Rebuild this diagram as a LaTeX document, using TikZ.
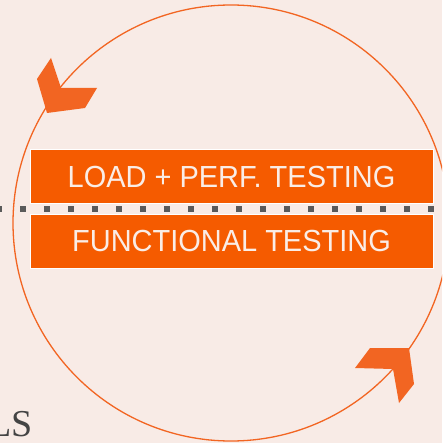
\documentclass[tikz,border=0pt]{standalone}
\usepackage{fontspec}
\usepackage{graphicx}
\setmainfont{Liberation Serif}
\newfontfamily\boxfont{Liberation Sans}
\definecolor{bgc}{HTML}{F8EBE6}
\definecolor{boxc}{HTML}{F55B00}
\definecolor{arrc}{HTML}{F26522}
\definecolor{txtc}{HTML}{FAEDE6}
\definecolor{dotc}{HTML}{5A5A5A}
\definecolor{lsc}{HTML}{444444}
\newcommand{\bandtxt}[1]{\scalebox{0.95}[1]{#1}}
\tikzset{
  px/.style={x=1pt,y=-1pt},
  bandbox/.style={draw=white, line width=1pt, fill=boxc, minimum width=403pt, minimum height=54pt, inner sep=0pt, text=txtc, font=\boxfont\fontsize{30.5}{32}\selectfont},
  chev/.style={fill=arrc, draw=none},
  ring/.style={draw=arrc, line width=1.3pt, circle, minimum size=436pt, inner sep=0pt},
}
\begin{document}
\begin{tikzpicture}[px]
\fill[bgc] (0,0) rectangle (442,443);
\useasboundingbox (0,0) rectangle (442,443);
\begin{scope}
\clip (0,0) rectangle (442,443);
\node[ring] (cyc) at (231,223) {};
\node[anchor=base east, text=lsc, font=\fontsize{38}{40}\selectfont, inner sep=0pt] (ls) at (33,436) {LS};
\draw[dotc, line width=5.5pt, dash pattern=on 5.5pt off 18.5pt] (-3.75,209) coordinate (dl) -- (437,209) coordinate (dr);
\end{scope}
\node[bandbox] (perf) at (231.5,177) {\bandtxt{LOAD + PERF. TESTING}};
\node[bandbox] (func) at (231.5,241) {\bandtxt{FUNCTIONAL TESTING}};
\fill[chev] (51,58) -- (61,88) -- (97,88) -- (85,108) -- (47,113) -- (37,79) -- cycle;
\fill[chev] (370,348) -- (409,348) -- (414,384) -- (399,403) -- (393,369) -- (355,368) -- cycle;
\end{tikzpicture}
\end{document}
